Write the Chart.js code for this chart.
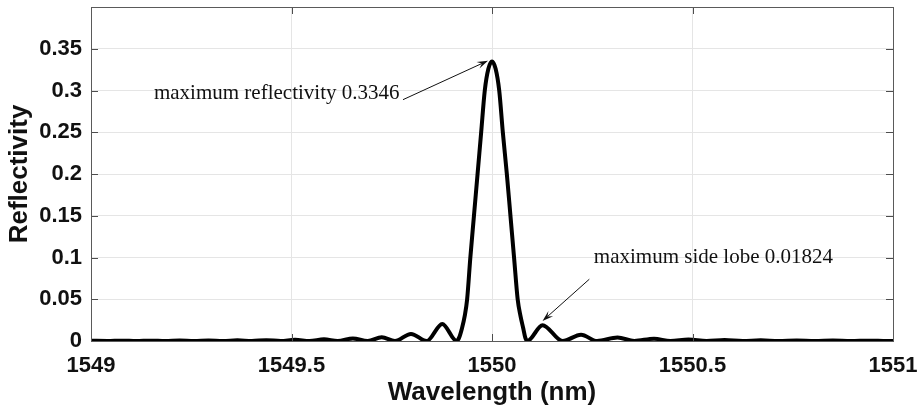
<!DOCTYPE html>
<html>
<head>
<meta charset="utf-8">
<script src="https://cdn.jsdelivr.net/npm/chart.js@4/dist/chart.umd.min.js"></script>
<style>
  html, body { margin: 0; padding: 0; background: #fff; }
  #wrap { width: 920px; height: 415px; position: relative; }
</style>
</head>
<body>
<div id="wrap"><canvas id="c" width="920" height="415"></canvas></div>
<script>
// ---- data ----
const wavelength = [
  1549.000, 1549.041, 1549.077, 1549.113, 1549.149, 1549.185, 1549.221, 1549.257,
  1549.293, 1549.329, 1549.365, 1549.401, 1549.437, 1549.473, 1549.509, 1549.545,
  1549.581, 1549.615, 1549.653, 1549.690, 1549.725, 1549.758, 1549.798, 1549.837,
  1549.876, 1549.912,
  1549.918, 1549.925, 1549.932, 1549.938, 1549.946, 1549.955, 1549.964, 1549.973,
  1549.982, 1549.991, 1550.000, 1550.009, 1550.018, 1550.027, 1550.037, 1550.046,
  1550.055, 1550.064, 1550.071, 1550.078, 1550.083, 1550.088,
  1550.126, 1550.176, 1550.222, 1550.262, 1550.313, 1550.355, 1550.404, 1550.445,
  1550.490, 1550.535, 1550.580, 1550.625, 1550.670, 1550.715, 1550.760, 1550.805,
  1550.850, 1550.895, 1550.940, 1550.985, 1551.000
];
const reflectivity = [
  0.0003, 0.0000, 0.0004, 0.0000, 0.0004, 0.0000, 0.0005, 0.0000,
  0.0006, 0.0000, 0.0008, 0.0000, 0.0010, 0.0000, 0.0014, 0.0000,
  0.0020, 0.0000, 0.0030, 0.0000, 0.0044, 0.0000, 0.0085, 0.0000,
  0.0205, 0.0000,
  0.0040, 0.0150, 0.0300, 0.0500, 0.1000, 0.1500, 0.2000, 0.2500,
  0.3000, 0.3260, 0.3346, 0.3260, 0.3000, 0.2500, 0.2000, 0.1500,
  0.1000, 0.0500, 0.0300, 0.0150, 0.0040, 0.0000,
  0.0190, 0.0000, 0.0075, 0.0000, 0.0042, 0.0000, 0.0028, 0.0000,
  0.0018, 0.0000, 0.0012, 0.0000, 0.0008, 0.0000, 0.0006, 0.0000,
  0.0005, 0.0000, 0.0004, 0.0000, 0.0001
];
const xTickValues = [1549, 1549.5, 1550, 1550.5, 1551];
const yTickValues = [0, 0.05, 0.1, 0.15, 0.2, 0.25, 0.3, 0.35];
const xTitle = 'Wavelength (nm)';
const yTitle = 'Reflectivity';
const notes = [
  { text: 'maximum reflectivity 0.3346', tx: 1549.157, ty: 0.290, ax: 1549.778, ay: 0.289, bx: 1549.990, by: 0.3357 },
  { text: 'maximum side lobe 0.01824', tx: 1550.254, ty: 0.0935, ax: 1550.2427, ay: 0.074, bx: 1550.126, by: 0.024 }
];

const points = wavelength.map((w, i) => ({ x: w, y: reflectivity[i] }));

const frame = {
  id: 'frame',
  afterDatasetsDraw(chart) {
    const { ctx, chartArea: a, scales: { x, y } } = chart;
    ctx.save();
    ctx.strokeStyle = '#4d4d4d';
    ctx.lineWidth = 1;
    const L = 7;
    ctx.beginPath();
    xTickValues.forEach(v => {
      const px = Math.round(x.getPixelForValue(v)) + 0.5;
      ctx.moveTo(px, a.bottom); ctx.lineTo(px, a.bottom - L);
      ctx.moveTo(px, a.top); ctx.lineTo(px, a.top + L);
    });
    yTickValues.forEach(v => {
      const py = Math.round(y.getPixelForValue(v)) + 0.5;
      ctx.moveTo(a.left, py); ctx.lineTo(a.left + L, py);
      ctx.moveTo(a.right, py); ctx.lineTo(a.right - L, py);
    });
    ctx.stroke();
    ctx.strokeStyle = '#5a5a5a';
    ctx.strokeRect(Math.round(a.left) + 0.5, Math.round(a.top) + 0.5,
                   Math.round(a.right - a.left), Math.round(a.bottom - a.top));
    ctx.restore();
  },
  afterDraw(chart) {
    const { ctx, scales: { x, y } } = chart;
    ctx.save();
    ctx.fillStyle = '#111';
    ctx.strokeStyle = '#111';
    ctx.font = '21px "Liberation Serif", "DejaVu Serif", serif';
    ctx.textBaseline = 'alphabetic';
    ctx.textAlign = 'left';
    notes.forEach(n => {
      ctx.fillText(n.text, x.getPixelForValue(n.tx), y.getPixelForValue(n.ty));
      const x1 = x.getPixelForValue(n.ax), y1 = y.getPixelForValue(n.ay);
      const x2 = x.getPixelForValue(n.bx), y2 = y.getPixelForValue(n.by);
      const ang = Math.atan2(y2 - y1, x2 - x1);
      const hl = 11, hw = 3.5;
      ctx.lineWidth = 1;
      ctx.beginPath();
      ctx.moveTo(x1, y1);
      ctx.lineTo(x2 - Math.cos(ang) * hl * 0.6, y2 - Math.sin(ang) * hl * 0.6);
      ctx.stroke();
      ctx.beginPath();
      ctx.moveTo(x2, y2);
      ctx.lineTo(x2 - Math.cos(ang) * hl - Math.sin(ang) * hw, y2 - Math.sin(ang) * hl + Math.cos(ang) * hw);
      ctx.lineTo(x2 - Math.cos(ang) * hl * 0.6, y2 - Math.sin(ang) * hl * 0.6);
      ctx.lineTo(x2 - Math.cos(ang) * hl + Math.sin(ang) * hw, y2 - Math.sin(ang) * hl - Math.cos(ang) * hw);
      ctx.closePath();
      ctx.fill();
    });
    ctx.restore();
  }
};

const fmt = v => String(Number(v.toFixed(2)));

new Chart(document.getElementById('c'), {
  type: 'line',
  data: {
    datasets: [{
      data: points,
      borderColor: '#000',
      borderWidth: 4,
      pointRadius: 0,
      fill: false,
      cubicInterpolationMode: 'monotone'
    }]
  },
  options: {
    responsive: false,
    animation: false,
    events: [],
    layout: { padding: { left: 0, right: 27, top: 7, bottom: 0 } },
    plugins: { legend: { display: false }, tooltip: { enabled: false } },
    scales: {
      x: {
        type: 'linear',
        min: 1549, max: 1551,
        afterBuildTicks: s => { s.ticks = xTickValues.map(v => ({ value: v })); },
        afterFit: s => { s.height = 74; s.paddingLeft = 0; s.paddingRight = 0; },
        ticks: {
          callback: v => fmt(v),
          color: '#111',
          font: { family: '"Liberation Sans", Arial, sans-serif', size: 22, weight: 'bold' },
          padding: 12,
          maxRotation: 0,
          autoSkip: false
        },
        grid: { color: '#e5e5e5', lineWidth: 1, drawTicks: false },
        border: { display: false },
        title: {
          display: true, text: xTitle, color: '#111',
          font: { family: '"Liberation Sans", Arial, sans-serif', size: 26, weight: 'bold' },
          padding: { top: 0, bottom: 7 }
        }
      },
      y: {
        type: 'linear',
        min: 0, max: 0.4,
        afterBuildTicks: s => { s.ticks = yTickValues.map(v => ({ value: v })); },
        afterFit: s => { s.width = 91; s.paddingTop = 0; s.paddingBottom = 0; },
        ticks: {
          callback: v => fmt(v),
          color: '#111',
          font: { family: '"Liberation Sans", Arial, sans-serif', size: 22, weight: 'bold' },
          padding: 9,
          autoSkip: false
        },
        grid: { color: '#e5e5e5', lineWidth: 1, drawTicks: false },
        border: { display: false },
        title: {
          display: true, text: yTitle, color: '#111',
          font: { family: '"Liberation Sans", Arial, sans-serif', size: 26, weight: 'bold' },
          padding: { top: 4, bottom: 0 }
        }
      }
    }
  },
  plugins: [frame]
});
</script>
</body>
</html>
